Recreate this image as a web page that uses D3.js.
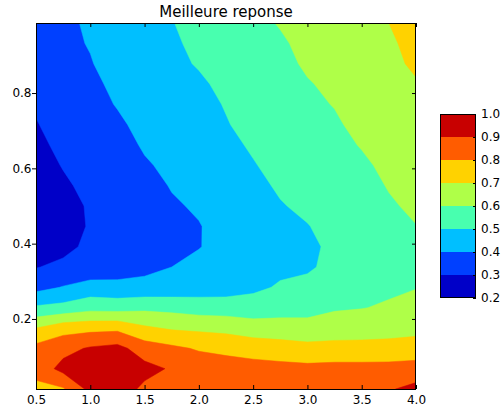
<!DOCTYPE html>
<html><head><meta charset="utf-8">
<script src="https://cdn.jsdelivr.net/npm/d3@7"></script>
<style>
body{margin:0;background:#fff}
svg{display:block}
text{font-family:"DejaVu Sans",sans-serif;fill:#000}
</style></head>
<body><svg id="chart" width="503" height="412"></svg>
<script>
// ---- data ----
const title = "Meilleure reponse";
const xValues = [0.5, 0.75, 1.0, 1.25, 1.5, 1.75, 2.0, 2.25, 2.5, 2.75, 3.0, 3.25, 3.5, 3.75, 4.0];
const yValues = [0.014, 0.068, 0.122, 0.176, 0.230, 0.284, 0.338, 0.392, 0.446, 0.500,
                 0.554, 0.608, 0.662, 0.716, 0.770, 0.824, 0.878, 0.932, 0.986];
// one column of estimated values per x, listed from bottom (y=0.014) to top (y=0.986)
const col050 = [0.77, 0.84, 0.83, 0.70, 0.514, 0.368, 0.296, 0.26, 0.24, 0.24, 0.25, 0.26, 0.28, 0.295, 0.31, 0.33, 0.34, 0.355, 0.37];
const col075 = [0.79, 0.93, 0.87, 0.76, 0.53, 0.405, 0.32, 0.275, 0.25, 0.25, 0.285, 0.305, 0.32, 0.335, 0.35, 0.36, 0.37, 0.38, 0.385];
const col100 = [0.93, 0.95, 0.91, 0.77, 0.565, 0.44, 0.33, 0.32, 0.31, 0.315, 0.325, 0.33, 0.345, 0.355, 0.37, 0.38, 0.395, 0.405, 0.41];
const col125 = [0.95, 0.97, 0.93, 0.775, 0.56, 0.43, 0.35, 0.335, 0.33, 0.335, 0.34, 0.35, 0.365, 0.385, 0.405, 0.42, 0.435, 0.45, 0.46];
const col150 = [0.88, 0.93, 0.85, 0.715, 0.577, 0.43, 0.375, 0.36, 0.355, 0.36, 0.37, 0.39, 0.41, 0.425, 0.44, 0.455, 0.465, 0.475, 0.485];
const col175 = [0.86, 0.89, 0.82, 0.688, 0.57, 0.435, 0.40, 0.385, 0.38, 0.39, 0.405, 0.42, 0.435, 0.45, 0.465, 0.475, 0.485, 0.49, 0.497];
const col200 = [0.85, 0.86, 0.79, 0.68, 0.553, 0.45, 0.42, 0.397, 0.396, 0.41, 0.425, 0.44, 0.455, 0.465, 0.475, 0.49, 0.505, 0.515, 0.525];
const col225 = [0.85, 0.845, 0.775, 0.67, 0.55, 0.455, 0.43, 0.425, 0.43, 0.44, 0.45, 0.465, 0.48, 0.495, 0.505, 0.515, 0.525, 0.535, 0.545];
const col250 = [0.84, 0.835, 0.76, 0.645, 0.545, 0.48, 0.46, 0.455, 0.46, 0.47, 0.48, 0.495, 0.51, 0.525, 0.54, 0.55, 0.56, 0.57, 0.58];
const col275 = [0.84, 0.83, 0.745, 0.64, 0.56, 0.51, 0.48, 0.475, 0.48, 0.495, 0.51, 0.525, 0.54, 0.55, 0.56, 0.57, 0.58, 0.59, 0.605];
const col300 = [0.84, 0.825, 0.73, 0.635, 0.565, 0.53, 0.485, 0.48, 0.497, 0.515, 0.53, 0.545, 0.56, 0.57, 0.585, 0.595, 0.61, 0.62, 0.63];
const col325 = [0.84, 0.83, 0.735, 0.645, 0.59, 0.56, 0.53, 0.52, 0.525, 0.535, 0.55, 0.56, 0.575, 0.59, 0.603, 0.615, 0.625, 0.635, 0.645];
const col350 = [0.845, 0.83, 0.735, 0.65, 0.597, 0.57, 0.55, 0.545, 0.55, 0.56, 0.57, 0.585, 0.605, 0.62, 0.635, 0.645, 0.655, 0.665, 0.675];
const col375 = [0.89, 0.83, 0.74, 0.655, 0.61, 0.585, 0.575, 0.575, 0.58, 0.59, 0.605, 0.62, 0.635, 0.65, 0.665, 0.675, 0.685, 0.69, 0.70];
const col400 = [0.93, 0.835, 0.75, 0.665, 0.63, 0.597, 0.585, 0.585, 0.598, 0.615, 0.63, 0.645, 0.66, 0.675, 0.685, 0.695, 0.71, 0.72, 0.73];
const levels = [0.2, 0.3, 0.4, 0.5, 0.6, 0.7, 0.8, 0.9, 1.0];
const bandColors = ["#0000c8", "#0040ff", "#00bfff", "#48ffaf", "#afff48", "#ffd200", "#ff5c00", "#c80000"];
const xTicks = [0.5, 1.0, 1.5, 2.0, 2.5, 3.0, 3.5, 4.0];
const yTicks = [0.2, 0.4, 0.6, 0.8];
const cbTicks = [0.2, 0.3, 0.4, 0.5, 0.6, 0.7, 0.8, 0.9, 1.0];

// ---- build grid ----
const columns = [col050, col075, col100, col125, col150, col175, col200, col225, col250, col275, col300, col325, col350, col375, col400];
const nx = xValues.length, ny = yValues.length;
const grid = new Array(nx * ny);
for (let j = 0; j < ny; j++) for (let i = 0; i < nx; i++) grid[j * nx + i] = columns[i][j];

// ---- layout ----
const svg = d3.select("#chart");
const L = 36, R = 416, T = 23, B = 389;
const x = d3.scaleLinear().domain([xValues[0], xValues[nx - 1]]).range([L, R]);
const y = d3.scaleLinear().domain([yValues[0], yValues[ny - 1]]).range([B, T]);
const gx = d3.scaleLinear().domain([0.5, nx - 0.5]).range([xValues[0], xValues[nx - 1]]);
const gy = d3.scaleLinear().domain([0.5, ny - 0.5]).range([yValues[0], yValues[ny - 1]]);

svg.append("defs").append("clipPath").attr("id", "plotclip")
  .append("rect").attr("x", L).attr("y", T).attr("width", R - L).attr("height", B - T);

const proj = d3.geoTransform({
  point: function (px, py) { this.stream.point(x(gx(px)), y(gy(py))); }
});
const path = d3.geoPath(proj);
const contours = d3.contours().size([nx, ny]).smooth(true).thresholds(levels.slice(0, -1))(grid);

const band = d3.scaleThreshold().domain(levels.slice(1, -1)).range(bandColors);

svg.append("g").attr("clip-path", "url(#plotclip)")
  .selectAll("path").data(contours).join("path")
  .attr("d", path)
  .attr("fill", d => band(d.value + 0.0001))
  .attr("stroke", d => band(d.value + 0.0001))
  .attr("stroke-width", 0.5);

// ---- axes ----
const fmt = d3.format(".1f");
const axB = svg.append("g").attr("transform", `translate(0,${B})`)
  .call(d3.axisBottom(x).tickValues(xTicks).tickFormat(fmt).tickSizeInner(-4).tickSizeOuter(0).tickPadding(6));
const axT = svg.append("g").attr("transform", `translate(0,${T})`)
  .call(d3.axisTop(x).tickValues(xTicks).tickFormat("").tickSizeInner(-4).tickSizeOuter(0));
const axL = svg.append("g").attr("transform", `translate(${L},0)`)
  .call(d3.axisLeft(y).tickValues(yTicks).tickFormat(fmt).tickSizeInner(4).tickSizeOuter(0).tickPadding(0.5));
const axR = svg.append("g").attr("transform", `translate(${R},0)`)
  .call(d3.axisRight(y).tickValues(yTicks).tickFormat("").tickSizeInner(-4).tickSizeOuter(0));
[axB, axT, axL, axR].forEach(g => {
  g.select(".domain").remove();
  g.selectAll("line").attr("stroke", "#000").attr("stroke-width", 1);
  g.selectAll("text").attr("font-size", 12).attr("font-family", "DejaVu Sans, sans-serif").attr("fill", "#000");
});
svg.append("rect").attr("x", L + 0.5).attr("y", T + 0.5).attr("width", R - L - 1).attr("height", B - T)
  .attr("fill", "none").attr("stroke", "#000").attr("stroke-width", 1);

// ---- title ----
svg.append("text").attr("x", (L + R) / 2).attr("y", 17).attr("text-anchor", "middle")
  .attr("font-size", 15).text(title);

// ---- colorbar ----
const CL = 440, CR = 476, CT = 114, CB = 298;
const cy = d3.scaleLinear().domain([levels[0], levels[levels.length - 1]]).range([CB, CT]);
svg.append("g").selectAll("rect").data(bandColors).join("rect")
  .attr("x", CL).attr("width", CR - CL)
  .attr("y", (c, i) => cy(levels[i + 1]))
  .attr("height", (c, i) => cy(levels[i]) - cy(levels[i + 1]))
  .attr("fill", c => c);
const axC = svg.append("g").attr("transform", `translate(${CR},0)`)
  .call(d3.axisRight(cy).tickValues(cbTicks).tickFormat(fmt).tickSizeInner(-3).tickSizeOuter(0).tickPadding(5));
axC.select(".domain").remove();
axC.selectAll("line").attr("stroke", "#000");
axC.selectAll("text").attr("font-size", 12).attr("font-family", "DejaVu Sans, sans-serif").attr("fill", "#000");
svg.append("rect").attr("x", CL + 0.5).attr("y", CT + 0.5).attr("width", CR - CL - 1).attr("height", CB - CT - 1)
  .attr("fill", "none").attr("stroke", "#000").attr("stroke-width", 1);
</script></body></html>
